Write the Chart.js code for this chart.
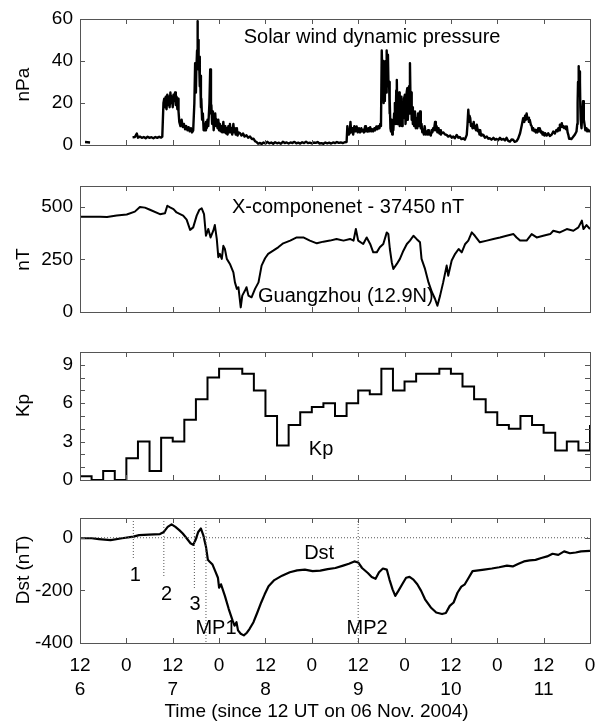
<!DOCTYPE html>
<html>
<head>
<meta charset="utf-8">
<script src="https://cdn.jsdelivr.net/npm/chart.js@4.4.1/dist/chart.umd.min.js"></script>
<style>
  body { margin: 0; background: #fff; }
  #wrap { position: relative; width: 598px; height: 724px; }
  #wrap canvas { position: absolute; left: 0; }
</style>
</head>
<body>
<div id="wrap">
  <canvas id="pdyn" width="598" height="150" style="top:0px"></canvas>
  <canvas id="xcomp" width="598" height="160" style="top:160px"></canvas>
  <canvas id="kp" width="598" height="160" style="top:330px"></canvas>
  <canvas id="dst" width="598" height="234" style="top:490px"></canvas>
</div>
<script>
// hours since 12 UT on 06 Nov 2004
const hourLabels = ['12', '0', '12', '0', '12', '0', '12', '0', '12', '0', '12', '0'];
const dayLabels = ['6', '', '7', '', '8', '', '9', '', '10', '', '11', ''];

// solar wind dynamic pressure (nPa)
const pdynTime = [
  1.3, 2.6, 3, 13.6, 14.2, 14.7, 15.0, 15.5, 16, 16.5,
  17, 17.5, 18, 18.5, 19, 19.5, 20, 20.5, 21.0, 21.3,
  21.6, 21.8, 22.0, 22.2, 22.4, 22.6, 22.8, 23.0, 23.2, 23.4,
  23.6, 23.8, 24.0, 24.2, 24.4, 24.6, 24.8, 25.0, 25.2, 25.4,
  25.5, 25.7, 26.0, 26.3, 26.6, 26.9, 27.2, 27.5, 27.8, 28.1,
  28.4, 28.7, 29.0, 29.3, 29.6, 29.8, 30.0, 30.1, 30.3, 30.4,
  30.5, 30.6, 30.7, 30.8, 31.0, 31.1, 31.3, 31.4, 31.6, 31.8,
  32.0, 32.2, 32.4, 32.6, 32.8, 33.0, 33.2, 33.5, 33.7, 33.9,
  34.0, 34.2, 34.4, 34.6, 34.8, 35.0, 35.2, 35.4, 35.6, 35.8,
  36.0, 36.2, 36.4, 36.6, 36.8, 37.1, 37.3, 37.6, 37.8, 38,
  38.2, 38.4, 38.6, 38.8, 39.0, 39.2, 39.4, 39.7, 39.9, 40.1,
  40.3, 40.6, 40.8, 41, 41.4, 41.8, 42.2, 42.6, 43.1, 43.5,
  44, 44.5, 44.9, 45.3, 45.7, 46.1, 46.6, 47, 47.5, 48,
  48.5, 49, 49.5, 50, 50.5, 51, 51.5, 52, 52.5, 53,
  53.5, 54, 54.5, 55, 55.5, 56, 56.5, 57, 57.5, 58,
  58.5, 59, 59.5, 60, 60.5, 61, 61.5, 62, 62.5, 63,
  63.5, 64, 64.5, 65, 65.5, 66, 66.5, 67, 67.5, 68,
  68.5, 69.0, 69.2, 69.4, 69.6, 69.8, 70, 70.2, 70.5, 70.7,
  71, 71.3, 71.6, 71.9, 72.2, 72.5, 72.8, 73.0, 73.3, 73.5,
  73.8, 74.0, 74.2, 74.5, 74.7, 74.9, 75.1, 75.4, 75.6, 75.9,
  76.2, 76.4, 76.7, 77.0, 77.2, 77.5, 77.7, 77.9, 78.1, 78.3,
  78.45, 78.6, 78.75, 78.9, 79.05, 79.2, 79.35, 79.4, 79.55, 79.7,
  79.85, 80, 80.1, 80.2, 80.35, 80.5, 80.65, 80.8, 80.95, 81.1,
  81.3, 81.5, 81.7, 81.85, 82, 82.15, 82.3, 82.45, 82.6, 82.75,
  82.9, 83.05, 83.2, 83.35, 83.5, 83.7, 83.85, 84.1, 84.25, 84.4,
  84.55, 84.7, 84.85, 85, 85.15, 85.3, 85.4, 85.55, 85.7, 85.85,
  86, 86.15, 86.3, 86.5, 86.7, 86.9, 87.1, 87.3, 87.5, 87.7,
  88, 88.2, 88.4, 88.6, 88.8, 89.0, 89.2, 89.5, 89.7, 89.9,
  90.1, 90.3, 90.6, 90.8, 91, 91.2, 91.4, 91.6, 91.9, 92.1,
  92.3, 92.5, 92.8, 93.0, 93.2, 93.4, 93.6, 94, 94.5, 94.9,
  95.3, 95.8, 96.2, 96.6, 97.0, 97.5, 97.9, 98.3, 98.7, 99.2,
  99.6, 100.1, 100.3, 100.5, 100.7, 100.8, 101, 101.2, 101.4, 101.6,
  101.9, 102.1, 102.3, 102.5, 102.7, 103, 103.2, 103.4, 103.6, 103.8,
  104, 104.4, 104.8, 105.3, 105.7, 106.1, 106.5, 107, 107.4, 107.8,
  108.2, 108.7, 109.1, 109.6, 110, 110.4, 110.8, 111.3, 111.7, 112.1,
  112.5, 113, 113.4, 113.9, 114.3, 114.7, 115.0, 115.2, 115.4, 115.6,
  115.8, 116, 116.2, 116.4, 116.7, 116.9, 117.1, 117.3, 117.6, 117.8,
  118, 118.2, 118.4, 118.6, 118.8, 119, 119.3, 119.5, 119.7, 119.9,
  120.2, 120.4, 120.8, 121.2, 121.6, 122.1, 122.5, 122.9, 123.3, 123.6,
  123.8, 124.0, 124.2, 124.4, 124.7, 124.9, 125.1, 125.3, 125.6, 125.8,
  126, 126.2, 126.4, 126.6, 126.8, 127.2, 127.7, 128.1, 128.5, 128.7,
  128.8, 128.9, 129, 129.15, 129.3, 129.4, 129.5, 129.6, 129.8, 130.0,
  130.2, 130.4, 130.6, 130.8, 131.1, 131.3, 131.6, 131.8, 132
];
const pdynValue = [
  1.4, 1.2, null, 3.6, 3.8, 5.5, 3.5, 4, 3.4, 3.8,
  3.2, 3.9, 3.4, 3.7, 3.2, 3.8, 3.4, 3.9, 3.5, 4,
  20, 22, 18, 23, 17, 24, 19, 23, 18, 25,
  20, 23, 18, 24, 21, 25, 19, 23, 17, 22,
  16, 11, 9, 12, 8.5, 10, 7.5, 9, 7, 8.5,
  6.5, 8, 6, 7, 20, 39, 25, 35, 45, 59,
  40, 50, 36, 42, 28, 33, 18, 22, 12, 15,
  7, 10, 7, 11, 8, 12, 9, 20, 36, 15,
  19, 10, 16, 7, 13, 15, 9, 12, 8, 12,
  7, 10, 6.5, 9, 6, 11, 6, 9, 5.5, 8,
  5, 9, 6, 10, 6, 8, 5, 10, 6, 8,
  5, 8, 4.5, 6, 5.7, 4.5, 5.5, 4, 4.6, 3.5,
  4, 2.8, 3, 1.8, 1.4, 0.6, 1, 0.5, 1.2, 0.7,
  1.5, 0.8, 1.2, 0.6, 1.3, 0.8, 1.1, 0.6, 1.5, 0.9,
  1.2, 0.7, 1.2, 0.9, 1.5, 0.8, 1.1, 0.7, 1.3, 0.9,
  1.6, 0.9, 1.1, 0.8, 1.2, 1, 1.4, 0.7, 0.9, 0.6,
  1.2, 0.8, 1.1, 0.7, 1.2, 0.9, 1.4, 1, 1.2, 0.9,
  1.3, 1.4, 9, 5, 7, 5.5, 11, 6, 8, 5,
  9, 6.5, 8.8, 6, 8, 6, 8, 6.5, 7.2, 6,
  9, 6.5, 8, 6.4, 8, 6.5, 8.5, 6.5, 7.5, 6.5,
  8, 7, 8.8, 7.5, 9, 8, 10, 9, 45, 30,
  40, 20, 33, 21, 35, 40, 25, 45, 30, 43,
  28, 30, 15, 22, 8, 6.4, 12, 5, 10, 7,
  15, 20, 10, 26, 31, 10, 14, 24, 25, 9,
  12, 20, 23, 9, 18, 12.8, 22, 24, 10, 14,
  25, 27, 12, 18, 28, 15, 39, 20, 25, 12,
  18, 10, 14, 9, 16, 8, 12.8, 8, 15, 9,
  16, 8, 10, 6, 7, 5, 9, 5, 6.4, 5,
  7, 5, 5.6, 4.5, 7, 6, 8, 7, 11, 7,
  9, 6, 8, 5.5, 7, 5, 5.6, 6, 5, 4.8,
  4, 4.5, 3.5, 4, 3.2, 4.8, 3.5, 3.8, 2.8, 3.2,
  2.5, 4.8, 10, 16.8, 11, 14, 12.8, 9, 10, 8,
  11, 8, 9, 7, 9.7, 6.5, 7.2, 5, 7, 4.5,
  5, 4.8, 3.5, 4, 3, 3.2, 2.5, 3.4, 2.5, 2.9,
  2.3, 3.4, 2.5, 2.9, 2.2, 3.4, 2, 1.6, 2.6, 2.5,
  1.5, 1.8, 3, 5.6, 9, 12.8, 11, 14, 12, 15,
  12.5, 13, 11, 12, 9.5, 9, 7, 8, 6.5, 7.2,
  6, 7, 6, 8, 6.5, 8, 6, 6.4, 5, 6,
  4.5, 5.6, 4.5, 5.6, 4.3, 5, 6.4, 5.5, 7.2, 6.5,
  8, 7, 9.7, 8.5, 10.4, 8.5, 9, 8, 8.8, 7.5,
  8.8, 6, 4.8, 3, 3.2, 2.8, 4, 5, 6.4, 10,
  20, 30, 37.5, 28, 35, 30, 18, 12, 8, 15,
  20.8, 12, 9.7, 7, 8, 6.5, 7.2, 6.5, 7
];

// Guangzhou X component minus 37450 nT
const xTime = [
  0, 5.2, 7, 9.5, 12.1, 14.2, 15.5, 16.8, 18.1, 20.7,
  22, 22.6, 23.3, 24.2, 25, 25.9, 26.7, 27.6, 28.5, 29.3,
  30.2, 30.9, 31.5, 32.1, 32.6, 33.2, 33.8, 34.5, 34.9, 35.4,
  35.8, 36.2, 36.7, 37.1, 37.5, 38, 38.8, 39.7, 40.1, 40.6,
  41, 41.6, 42, 42.7, 43.1, 43.6, 44.4, 45.3, 46.2, 47,
  47.9, 48.7, 50, 51.3, 52.6, 54.4, 56.1, 57.8, 59.5, 61.3,
  63, 64.7, 66.4, 68.2, 69.9, 70.8, 71.4, 72, 73.3, 74.2,
  75.1, 75.9, 76.8, 77.6, 78.5, 79.4, 79.8, 80.2, 80.7, 81.1,
  82, 82.8, 83.7, 84.6, 85.4, 86.3, 87.1, 88, 88.4, 89.3,
  90.2, 91.1, 91.9, 92.5, 93.2, 94, 94.9, 95.3, 96.2, 97.1,
  98, 98.8, 99.7, 100.5, 101.4, 102.2, 103.5, 105.3, 107, 108.7,
  110.4, 112.2, 113, 113.9, 115.6, 116.9, 118.2, 119.9, 121.7, 122.5,
  124.2, 126, 127.7, 129, 129.9, 130.3, 131.1, 132
];
const xValue = [
  454, 454, 452, 459, 464, 478, 500, 497, 487, 466,
  470, 506, 498, 490, 474, 466, 459, 440, 391, 403,
  459, 487, 494, 466, 363, 395, 355, 387, 414, 348,
  261, 277, 253, 315, 300, 253, 229, 189, 141, 110,
  118, 22, 78, 102, 118, 78, 70, 110, 141, 221,
  256, 277, 292, 308, 327, 340, 355, 355, 340, 327,
  335, 340, 348, 340, 348, 340, 395, 340, 324, 355,
  324, 284, 284, 308, 324, 379, 372, 300, 236, 205,
  229, 253, 292, 324, 340, 363, 348, 332, 253, 205,
  141, 94, 62, 30, 78, 141, 221, 173, 245, 277,
  300, 284, 324, 340, 379, 363, 332, 340, 348, 355,
  363, 371, 355, 340, 340, 371, 355, 363, 371, 387,
  379, 395, 387, 403, 435, 395, 414, 395
];

// 3-hourly Kp, each value starts at the given hour
const kpStart = [
  0, 3, 6, 9, 12, 15, 18, 21, 24, 27,
  30, 33, 36, 39, 42, 45, 48, 51, 54, 57,
  60, 63, 66, 69, 72, 75, 78, 81, 84, 87,
  90, 93, 96, 99, 102, 105, 108, 111, 114, 117,
  120, 123, 126, 129, 132
];
const kpValue = [
  0.3, 0, 0.7, 0, 1.7, 3, 0.7, 3.3, 3, 4.7,
  6.3, 8, 8.7, 8.7, 8.3, 7, 5, 2.7, 4.3, 5.3,
  5.7, 6, 5, 6, 7, 6.7, 8.7, 7, 7.7, 8.3,
  8.3, 8.7, 8.3, 7.3, 6.3, 5.3, 4.3, 4, 5, 4.3,
  3.7, 2.3, 3, 2.3, 4.3
];

// Dst (nT)
const dstTime = [
  0, 3, 4.9, 7.9, 10.9, 13.8, 15.3, 17.8, 20.7, 21.7,
  22.7, 23.7, 24.7, 25.7, 26.6, 27.6, 28.6, 29.3, 29.9, 30.6,
  31.3, 31.9, 32.6, 33.1, 33.5, 34.3, 35, 35.7, 36, 36.5,
  37.5, 38.5, 39.5, 40, 40.5, 40.9, 41.6, 42.4, 43.2, 43.9,
  44.9, 45.9, 46.9, 47.8, 48.8, 50.3, 52.3, 54.3, 56.2, 58.2,
  60.2, 62.2, 64.1, 66.1, 68.1, 69.6, 71, 72, 73, 74.5,
  75.5, 76.5, 77.4, 78.4, 79.4, 80.1, 80.9, 81.6, 82.4, 83.4,
  84.4, 85.3, 86.3, 87.3, 88.3, 89.3, 90.8, 92.2, 93.7, 94.7,
  95.7, 96.7, 97.7, 98.7, 99.6, 100.6, 101.6, 102.6, 104.6, 106.6,
  108.5, 110.5, 112, 113.5, 114.9, 116.4, 117.9, 119.4, 120.9, 122.3,
  123.8, 125.3, 126.8, 128.3, 129.7, 132
];
const dstValue = [
  -2, -2, -5, -9, -2, 4, 10, 12, 14, 22,
  41, 51, 41, 29, 16, -2, -21, -27, -9, 22,
  35, 10, -34, -84, -90, -102, -127, -152, -190, -177,
  -221, -271, -315, -334, -321, -352, -365, -371, -361, -346,
  -321, -284, -246, -215, -184, -161, -144, -131, -124, -121,
  -127, -125, -119, -115, -106, -99, -90, -94, -115, -134,
  -149, -156, -131, -117, -121, -159, -196, -221, -202, -177,
  -152, -149, -159, -177, -202, -234, -265, -284, -290, -286,
  -259, -246, -209, -186, -177, -152, -127, -125, -121, -117,
  -112, -106, -109, -99, -90, -86, -84, -77, -71, -61,
  -65, -52, -59, -56, -52, -50
];

// event markers in the Dst panel: 1, 2, 3, MP1, MP2
const eventTime = [13.8, 21.7, 29.6, 32.6, 72];
const eventLow = [-78, -152, -196, -400, -400];
const zeroLineTime = [0, 132];

// text written inside the panels (x in hours, y in panel units)
const pdynNotes = [{ text: 'Solar wind dynamic pressure', x: 75.6, y: 51 }];
const xNotes = [
  { text: 'X-componenet - 37450 nT', x: 69.4, y: 498 },
  { text: 'Guangzhou (12.9N)', x: 68.8, y: 75 }
];
const kpNotes = [{ text: 'Kp', x: 62.4, y: 2.4 }];
const dstNotes = [
  { text: 'Dst', x: 61.9, y: -59 },
  { text: '1', x: 14.3, y: -144 },
  { text: '2', x: 22.4, y: -215 },
  { text: '3', x: 29.8, y: -252 },
  { text: 'MP1', x: 35.2, y: -346 },
  { text: 'MP2', x: 74.3, y: -346 }
];

const FONT = '"Liberation Sans", Arial, sans-serif';
Chart.defaults.font.family = FONT;
Chart.defaults.font.size = 19;
Chart.defaults.color = '#000';
Chart.defaults.animation = false;

function pairs(xs, ys) {
  return xs.map((t, i) => ({ x: t, y: ys[i] }));
}

// box around the plot, inward tick marks and in-panel text
const frameTicks = {
  id: 'frameTicks',
  afterDatasetsDraw(chart, args, opts) {
    const { ctx, chartArea: a } = chart;
    const x = chart.scales.x, y = chart.scales.y;
    ctx.save();
    ctx.strokeStyle = '#555';
    ctx.lineWidth = 1;
    ctx.beginPath();
    x.ticks.forEach(t => {
      const px = Math.round(x.getPixelForValue(t.value)) + 0.5;
      if (px <= a.left + 2 || px >= a.right - 2) return;
      ctx.moveTo(px, a.top); ctx.lineTo(px, a.top + 5);
      ctx.moveTo(px, a.bottom); ctx.lineTo(px, a.bottom - 5);
    });
    y.ticks.forEach(t => {
      const py = Math.round(y.getPixelForValue(t.value)) + 0.5;
      if (py <= a.top + 2 || py >= a.bottom - 2) return;
      ctx.moveTo(a.left, py); ctx.lineTo(a.left + 5, py);
      ctx.moveTo(a.right, py); ctx.lineTo(a.right - 5, py);
    });
    ctx.stroke();
    ctx.strokeRect(a.left + 0.5, a.top + 0.5, a.right - a.left, a.bottom - a.top);
    ctx.fillStyle = '#000';
    ctx.font = '20px ' + FONT;
    ctx.textAlign = 'center';
    ctx.textBaseline = 'middle';
    (opts.notes || []).forEach(n => {
      ctx.fillText(n.text, x.getPixelForValue(n.x), y.getPixelForValue(n.y));
    });
    ctx.restore();
  }
};

function yAxis(min, max, step, title, labelFn) {
  return {
    type: 'linear', min: min, max: max,
    grid: { display: false, drawTicks: false },
    border: { display: false },
    ticks: { stepSize: step, padding: 7, includeBounds: false, autoSkip: false, callback: labelFn },
    title: { display: true, text: title, padding: { top: 12, bottom: 0 } },
    afterFit(scale) { scale.width = 80; scale.paddingTop = 0; scale.paddingBottom = 0; }
  };
}

function hiddenX() {
  return { type: 'linear', min: 0, max: 132, display: false, ticks: { stepSize: 12 } };
}

function line(data, width, extra) {
  return Object.assign({
    data: data, borderColor: '#000', borderWidth: width, pointRadius: 0,
    borderJoinStyle: 'round', tension: 0, spanGaps: false
  }, extra || {});
}

function makeChart(id, datasets, scales, pad, notes) {
  return new Chart(document.getElementById(id), {
    type: 'line',
    data: { datasets: datasets },
    options: {
      responsive: false,
      layout: { padding: pad },
      scales: scales,
      plugins: { legend: { display: false }, tooltip: { enabled: false }, frameTicks: { notes: notes } }
    },
    plugins: [frameTicks]
  });
}

// spaces in the axis titles nudge them off-centre like in the original figure
makeChart('pdyn',
  [line(pairs(pdynTime, pdynValue), 2.4)],
  { x: hiddenX(), y: yAxis(0, 60, 20, 'nPa ') },
  { left: 0, right: 8, top: 19, bottom: 5 }, pdynNotes);

makeChart('xcomp',
  [line(pairs(xTime, xValue), 2)],
  { x: hiddenX(), y: yAxis(0, 600, 250, 'nT    ') },
  { left: 0, right: 8, top: 26, bottom: 8 }, xNotes);

makeChart('kp',
  [line(pairs(kpStart, kpValue), 2, { stepped: 'before', borderJoinStyle: 'miter' })],
  { x: hiddenX(), y: yAxis(0, 10, 1, '    Kp', v => (v % 3 === 0 && v < 10) ? String(v) : '') },
  { left: 0, right: 8, top: 22, bottom: 10 }, kpNotes);

const dotted = { borderWidth: 1, borderColor: '#555', borderDash: [1, 2] };
const dstSets = [line(pairs(zeroLineTime, [0, 0]), 1, dotted)];
eventTime.forEach((t, i) => {
  dstSets.push(line(pairs([t, t], [75, eventLow[i]]), 1, dotted));
});
dstSets.push(line(pairs(dstTime, dstValue), 2.2));

makeChart('dst', dstSets, {
  x: {
    type: 'linear', min: 0, max: 132,
    grid: { display: false, drawTicks: false },
    border: { display: false },
    ticks: {
      stepSize: 12, padding: 10, autoSkip: false, maxRotation: 0,
      font: { size: 19, lineHeight: 1.3 },
      callback: (v, i) => [hourLabels[i], dayLabels[i]]
    },
    title: { display: true, text: 'Time (since 12 UT on 06 Nov. 2004)       ', padding: { top: 0, bottom: 1 } },
    afterFit(scale) { scale.height = 81; scale.paddingLeft = 0; scale.paddingRight = 0; }
  },
  y: yAxis(-400, 75, 200, '    Dst (nT)')
}, { left: 0, right: 8, top: 28, bottom: 0 }, dstNotes);
</script>
</body>
</html>
